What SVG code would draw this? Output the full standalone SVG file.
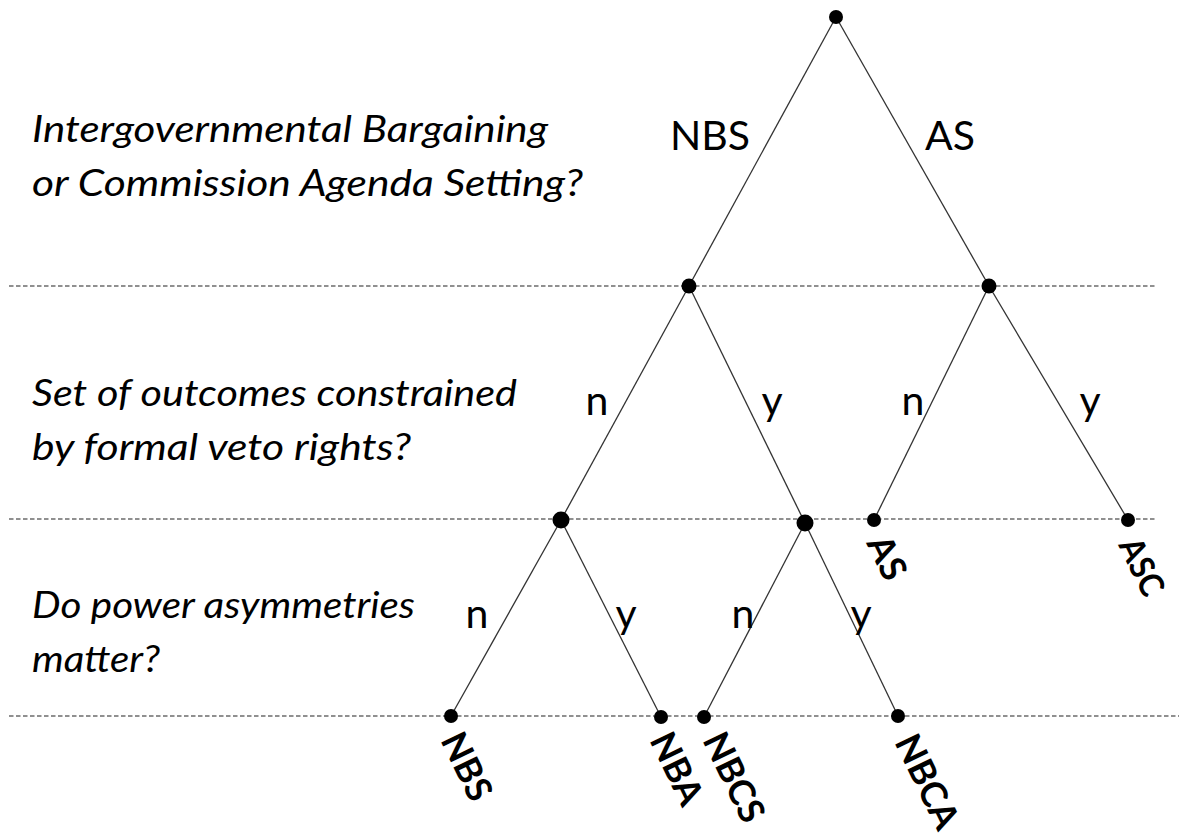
<svg xmlns="http://www.w3.org/2000/svg" width="1179" height="839" viewBox="0 0 1179 839">
<style>
.q{font-family:Lato,"Liberation Sans",sans-serif;font-style:italic;font-size:37px;fill:#000}
.lab{font-family:Lato,"Liberation Sans",sans-serif;font-size:41px;fill:#000}
.leaf{font-family:Lato,"Liberation Sans",sans-serif;font-weight:bold;font-size:36px;fill:#000}
.dash{stroke:#222;stroke-width:1.2;stroke-dasharray:4.5 2.5;fill:none}
.edge{stroke:#333;stroke-width:1.3;fill:none}
.dot{fill:#000}
</style>
<rect width="1179" height="839" fill="#fff"/>
<g id="levels">
<line class="dash" x1="9" y1="286" x2="1155" y2="286"/>
<line class="dash" x1="9" y1="519" x2="1155" y2="519"/>
<line class="dash" x1="9" y1="716" x2="1179" y2="716"/>
</g>
<g id="questions">
<text class="q" x="32" y="142" textLength="516" lengthAdjust="spacingAndGlyphs">Intergovernmental Bargaining</text>
<text class="q" x="32" y="196" textLength="551" lengthAdjust="spacingAndGlyphs">or Commission Agenda Setting?</text>
<text class="q" x="32" y="406" textLength="485" lengthAdjust="spacingAndGlyphs">Set of outcomes constrained</text>
<text class="q" x="32" y="460" textLength="379" lengthAdjust="spacingAndGlyphs">by formal veto rights?</text>
<text class="q" x="32" y="618" textLength="383" lengthAdjust="spacingAndGlyphs">Do power asymmetries</text>
<text class="q" x="32" y="672" textLength="128" lengthAdjust="spacingAndGlyphs">matter?</text>
</g>
<g id="connectors">
<line class="edge" x1="836" y1="17" x2="689" y2="286"/>
<line class="edge" x1="836" y1="17" x2="989" y2="286"/>
<line class="edge" x1="689" y1="286" x2="561" y2="520"/>
<line class="edge" x1="689" y1="286" x2="805" y2="523"/>
<line class="edge" x1="989" y1="286" x2="874" y2="520"/>
<line class="edge" x1="989" y1="286" x2="1128" y2="520"/>
<line class="edge" x1="561" y1="520" x2="451" y2="716"/>
<line class="edge" x1="561" y1="520" x2="661" y2="717"/>
<line class="edge" x1="805" y1="523" x2="704" y2="717"/>
<line class="edge" x1="805" y1="523" x2="898" y2="716"/>
<text class="lab" x="710" y="150" text-anchor="middle">NBS</text>
<text class="lab" x="950" y="150" text-anchor="middle">AS</text>
<text class="lab" x="597" y="415" text-anchor="middle">n</text>
<text class="lab" x="772" y="415" text-anchor="middle">y</text>
<text class="lab" x="913" y="415" text-anchor="middle">n</text>
<text class="lab" x="1090" y="415" text-anchor="middle">y</text>
<text class="lab" x="477" y="628" text-anchor="middle">n</text>
<text class="lab" x="626" y="628" text-anchor="middle">y</text>
<text class="lab" x="743" y="628" text-anchor="middle">n</text>
<text class="lab" x="861" y="628" text-anchor="middle">y</text>
</g>
<g id="n-root"><circle class="dot" cx="836" cy="17" r="7"/></g>
<g id="n-nbs1"><circle class="dot" cx="689" cy="286" r="7.5"/></g>
<g id="n-as1"><circle class="dot" cx="989" cy="286" r="7.5"/></g>
<g id="n-nn"><circle class="dot" cx="561" cy="520" r="8.5"/></g>
<g id="n-ny"><circle class="dot" cx="805" cy="523" r="8.5"/></g>
<g id="n-as"><circle class="dot" cx="874" cy="520" r="7"/><text class="leaf" transform="translate(866,543) rotate(64)">AS</text></g>
<g id="n-asc"><circle class="dot" cx="1128" cy="520" r="7"/><text class="leaf" style="font-size:34px" transform="translate(1118,545) rotate(64)" textLength="60" lengthAdjust="spacingAndGlyphs">ASC</text></g>
<g id="n-nbs"><circle class="dot" cx="451" cy="716" r="7"/><text class="leaf" transform="translate(440,740) rotate(64)">NBS</text></g>
<g id="n-nba"><circle class="dot" cx="661" cy="717" r="7"/><text class="leaf" transform="translate(649,740) rotate(64)">NBA</text></g>
<g id="n-nbcs"><circle class="dot" cx="704" cy="717" r="7"/><text class="leaf" transform="translate(702,740) rotate(64)">NBCS</text></g>
<g id="n-nbca"><circle class="dot" cx="898" cy="716" r="7"/><text class="leaf" transform="translate(894,742) rotate(64)">NBCA</text></g>
</svg>
